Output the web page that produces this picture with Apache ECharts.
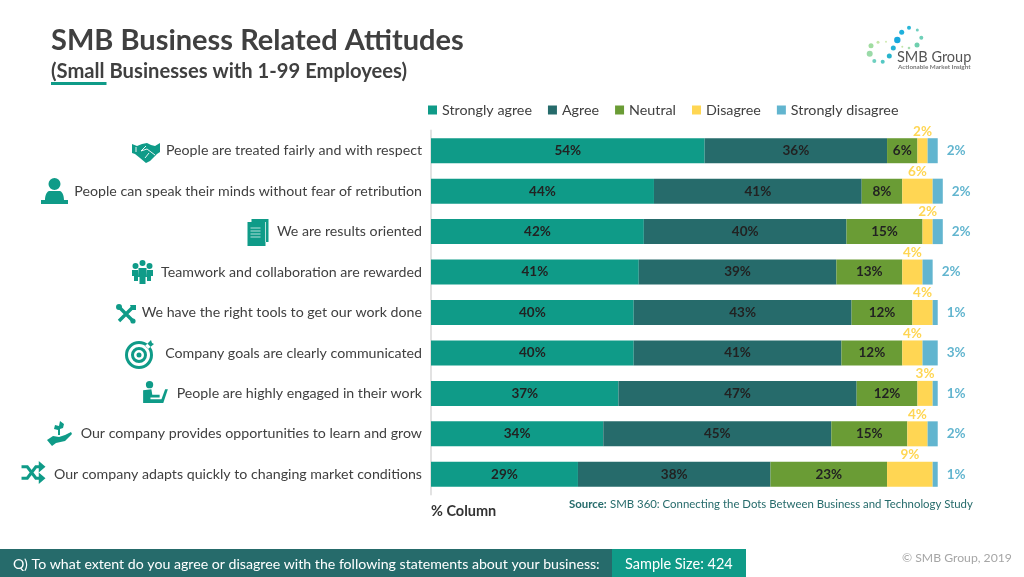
<!DOCTYPE html>
<html><head><meta charset="utf-8">
<style>html,body{margin:0;padding:0;background:#fff}#c{width:1024px;height:577px}</style>
<script src="https://cdn.jsdelivr.net/npm/echarts@6/dist/echarts.min.js"></script>
</head><body><div id="c"></div>
<script>
const categories = [
  'People are treated fairly and with respect',
  'People can speak their minds without fear of retribution',
  'We are results oriented',
  'Teamwork and collaboration are rewarded',
  'We have the right tools to get our work done',
  'Company goals are clearly communicated',
  'People are highly engaged in their work',
  'Our company provides opportunities to learn and grow',
  'Our company adapts quickly to changing market conditions'
];
const stronglyAgree    = [54,44,42,41,40,40,37,34,29];
const agree            = [36,41,40,39,43,41,47,45,38];
const neutral          = [ 6, 8,15,13,12,12,12,15,23];
const disagree         = [ 2, 6, 2, 4, 4, 4, 3, 4, 9];
const stronglyDisagree = [ 2, 2, 2, 2, 1, 3, 1, 2, 1];
const FONT = 'Lato';
const TEAL='#0f9b88', DARK='#266b6b', GREEN='#6a9c35', YELLOW='#ffd653', BLUE='#62b5cf', TXT='#404040';

const inside = {show:true, position:'inside', formatter:'{c}%', color:'#222', fontFamily:FONT, fontWeight:'bold', fontSize:13.5, padding:[3,0,0,0]};
function bar(name,data,color,label){
  return {name,type:'bar',stack:'all',barWidth:25,data,itemStyle:{color},label,silent:true};
}
const circ=(x,y,r)=>`M${x-r} ${y}A${r} ${r} 0 1 1 ${x+r} ${y}A${r} ${r} 0 1 1 ${x-r} ${y}Z`;
// Decorative pictograms, each a small inline SVG placed as a graphic image.
const icon=(body,vw,vh,x,y,w,h)=>({type:'image',silent:true,style:{
  image:'data:image/svg+xml;charset=utf-8,'+encodeURIComponent(`<svg xmlns="http://www.w3.org/2000/svg" width="${w*4}" height="${h*4}" viewBox="0 0 ${vw} ${vh}">${body}</svg>`),
  x,y,width:w,height:h}});
const F=d=>`<path d="${d}" fill="${TEAL}" fill-rule="evenodd"/>`;
const S=(d,c,lw)=>`<path d="${d}" fill="none" stroke="${c}" stroke-width="${lw}"/>`;
const dot=(x,y,r,c)=>({type:'circle',shape:{cx:x,cy:y,r},style:{fill:c},silent:true});
const txt=(text,x,y,font,fill,extra={})=>({type:'text',x,y,silent:true,style:Object.assign({text,font,fill,textVerticalAlign:'middle'},extra)});

const graphics=[
  {type:'rect',shape:{x:51,y:82,width:55.5,height:3},style:{fill:TEAL},silent:true},
  {type:'rect',shape:{x:0,y:549,width:612,height:28},style:{fill:DARK},silent:true},
  {type:'rect',shape:{x:612,y:549,width:134,height:28},style:{fill:TEAL},silent:true},
  txt('SMB Business Related Attitudes',51,41,`bold 29px ${FONT}`,TXT),
  txt('(Small Businesses with 1-99 Employees)',51,71,`bold 20.2px ${FONT}`,TXT),
  txt('% Column',431,511,`bold 14.5px ${FONT}`,'#333'),
  txt('Source:',569,504,`bold 11.4px ${FONT}`,DARK),
  txt('SMB 360: Connecting the Dots Between Business and Technology Study',610,504,`11.4px ${FONT}`,DARK),
  txt('Q) To what extent do you agree or disagree with the following statements about your business:',13,564,`14.15px ${FONT}`,'#ffffff'),
  txt('Sample Size: 424',625,564,`14.5px ${FONT}`,'#ffffff'),
  txt('© SMB Group, 2019',902,558,`12.2px ${FONT}`,'#a6a6a6'),
  dot(909,27.7,2,'#29b6d8'),dot(901.7,32.3,2.5,'#1fb0dc'),dot(917.3,30,1.5,'#6fcfc0'),dot(921.3,37.7,2,'#6fd0b8'),
  dot(897.3,40,3.2,'#18a8dc'),dot(917,45,2.5,'#6fcfae'),dot(893.3,48,2.5,'#22b2d6'),dot(902.3,46.7,1,'#c5e6a8'),
  dot(909,48,1.3,'#a8dcb0'),dot(871,45.7,2.5,'#a0dca0'),dot(878,42.3,1.5,'#c5e6a8'),dot(886,41.7,1,'#d0eab0'),
  dot(869.7,53.7,3,'#9adaa8'),dot(874.3,61,2,'#6fd0c0'),dot(882.7,61.7,2,'#55c8c4'),dot(889.3,56,2.5,'#28b4cc'),
  txt('SMB Group',897,57,`14.5px ${FONT}`,'#555'),
  txt('Actionable Market Insight',898,67,`bold 6.3px ${FONT}`,'#777'),
  // 1 handshake
  icon(F('M0 1L5 3L10 1L15 0L19 2L23 3L28 0L28 9L25 11L18 18L14 20L8 15L3 11L0 10Z')+S('M14 3L9 8L15 6L23 12M17 10L13 15M4 4L4 9','#fff',.9),28,20,132,143,28,20),
  // 2 person at lectern
  icon(F(circ(13.5,6,6)+'M8 13L19 13C22 14 23 19 23 22L27 22L27 26L0 26L0 22L4 22C4 19 5 14 8 13Z'),27,26,41,178,27,26),
  // 3 documents
  icon(F('M0 3L4 3L4 0L21 0L21 23L18 23L18 27L0 27Z')+S('M3 9L13 9M3 12L13 12M3 15L13 15M3 18L13 18M18 3L18 23','#fff',.7),21,27,247,219,22,27),
  // 4 team
  icon(F(circ(3.5,6,3)+circ(17.5,6,3)+circ(10.5,3,3)+'M0 10L6 10L6 21L2 21L2 16L0 16ZM15 10L21 10L21 16L19 16L19 21L15 21ZM6.5 8L14.5 8L15 17L13.5 17L13.5 24L7.5 24L7.5 17L6 17Z'),21,24,132,260,21,24),
  // 5 tools
  icon(S('M3 3L17 17M17 3L3 17',TEAL,3.4)+F(circ(3,3,3)+circ(17,17,2.6)+'M14 1L20 1L20 6L16 6Z'),20,20,116,304,20,20),
  // 6 target
  icon(F(circ(14,15,14)+circ(14,15,11)+circ(14,15,8)+circ(14,15,5)+circ(14,15,2.5)+'M20 6L26 0L27 3L29 4L23 9Z'),29,29,125,340,29,29),
  // 7 engaged worker
  icon(F(circ(7,4,4)+'M0 10L9 9L10 15L18 15L18 18L8 18L8 20L20 20L24 9L27 9L22 24L0 24Z'),27,24,142,381,27,22),
  // 8 growing plant on a hand
  icon(F('M0 19L6 15L12 16L18 14L24 11L25 13L18 20L9 22L5 25ZM11 14L11 9L7 8L8 4L12 5L13 0L17 3L16 7L13 8L13 14Z'),25,25,47,421,25,25),
  // 9 shuffle arrows
  icon(S('M0 6L6 6L15 18L20 18M0 18L6 18L15 6L20 6',TEAL,3.2)+F('M18 0L25 6L18 12ZM18 12L25 18L18 24Z'),25,24,21,461,25,23)
];

const option={
  animation:false,
  textStyle:{fontFamily:FONT},
  legend:{
    left:423,top:98,icon:'rect',itemWidth:9,itemHeight:9,itemGap:16,
    textStyle:{fontFamily:FONT,fontSize:14.3,color:TXT},
    data:['Strongly agree','Agree','Neutral','Disagree','Strongly disagree'],selectedMode:false
  },
  grid:{left:431,top:130.5,width:557.4,height:364,containLabel:false,outerBoundsMode:'none'},
  xAxis:{type:'value',min:0,max:110,show:false},
  yAxis:{type:'category',inverse:true,data:categories,
    axisTick:{show:false},
    axisLine:{show:true,lineStyle:{color:'#e2e2e2',width:2}},
    axisLabel:{interval:0,margin:9,color:TXT,fontFamily:FONT,fontSize:14.2,align:'right',padding:[3,0,0,0]}
  },
  series:[
    bar('Strongly agree',stronglyAgree,TEAL,inside),
    bar('Agree',agree,DARK,inside),
    bar('Neutral',neutral,GREEN,inside),
    bar('Disagree',disagree,YELLOW,{show:true,position:'top',distance:0,formatter:'{c}%',color:YELLOW,fontFamily:FONT,fontWeight:'bold',fontSize:13.5}),
    bar('Strongly disagree',stronglyDisagree,BLUE,{show:true,position:'right',distance:9,formatter:'{c}%',color:BLUE,fontFamily:FONT,fontWeight:'bold',fontSize:13.5,padding:[3,0,0,0]})
  ],
  graphic:{elements:graphics}
};
echarts.init(document.getElementById('c'),null,{renderer:'canvas'}).setOption(option);
</script></body></html>
